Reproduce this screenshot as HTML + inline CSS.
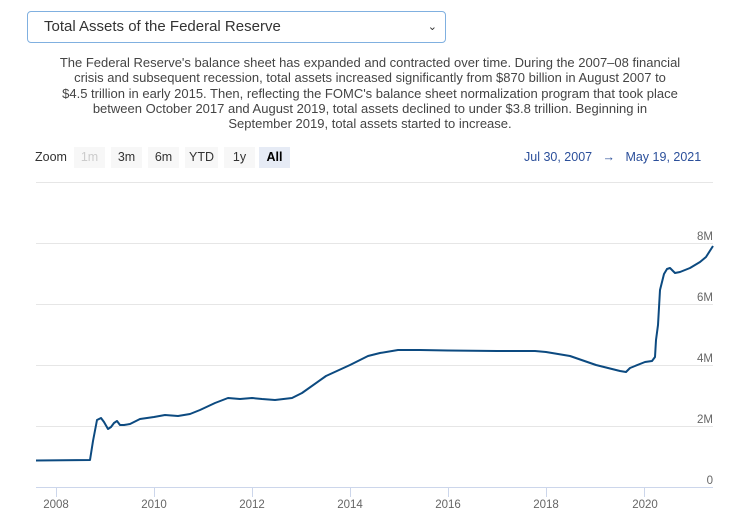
<!DOCTYPE html>
<html><head><style>
body{margin:0;width:738px;height:527px;background:#fff;font-family:"Liberation Sans",sans-serif;overflow:hidden;position:relative}
.sel{position:absolute;left:27px;top:11px;width:419px;height:32px;border:1px solid #80b0e0;border-radius:4px;box-sizing:border-box;font-size:15px;color:#333;line-height:30px;padding-left:16px}
.sel span{position:absolute;right:8px;top:0;font-size:11px}
.p{position:absolute;left:45px;width:650px;top:55px;text-align:center;font-size:13px;line-height:15.3px;color:#444}
.z{position:absolute;top:147px;font-size:12.5px;color:#333}
.b{position:absolute;top:147px;height:21px;line-height:21px;font-size:12.5px;background:#f7f7f7;color:#333;text-align:center}
</style></head><body>
<div class="sel">Total Assets of the Federal Reserve<span>&#8964;</span></div>
<div class="p">The Federal Reserve's balance sheet has expanded and contracted over time. During the 2007–08 financial<br>crisis and subsequent recession, total assets increased significantly from $870 billion in August 2007 to<br>$4.5 trillion in early 2015. Then, reflecting the FOMC's balance sheet normalization program that took place<br>between October 2017 and August 2019, total assets declined to under $3.8 trillion. Beginning in<br>September 2019, total assets started to increase.</div>
<div class="z" style="left:35px;top:150px">Zoom</div>
<div class="b" style="left:74px;width:31px;color:#ccc">1m</div>
<div class="b" style="left:111px;width:31px">3m</div>
<div class="b" style="left:148px;width:31px">6m</div>
<div class="b" style="left:185px;width:33px">YTD</div>
<div class="b" style="left:224px;width:31px">1y</div>
<div class="b" style="left:259px;width:31px;background:#e6ebf5;font-weight:bold;color:#000">All</div>
<div class="z" style="left:524px;top:150px;color:#2b4f9a">Jul 30, 2007 &nbsp;&nbsp;→&nbsp;&nbsp; May 19, 2021</div>
<svg width="738" height="527" style="position:absolute;left:0;top:0">
<g stroke="#e6e6e6" stroke-width="1">
<line x1="36" x2="713" y1="182.5" y2="182.5"/><line x1="36" x2="713" y1="243.5" y2="243.5"/><line x1="36" x2="713" y1="304.5" y2="304.5"/><line x1="36" x2="713" y1="365.5" y2="365.5"/><line x1="36" x2="713" y1="426.5" y2="426.5"/>
</g>
<line x1="36" x2="713" y1="487.5" y2="487.5" stroke="#ccd6eb"/>
<g stroke="#ccd6eb"><line x1="56.5" x2="56.5" y1="488" y2="497"/><line x1="154.5" x2="154.5" y1="488" y2="497"/><line x1="252.5" x2="252.5" y1="488" y2="497"/><line x1="350.5" x2="350.5" y1="488" y2="497"/><line x1="448.5" x2="448.5" y1="488" y2="497"/><line x1="546.5" x2="546.5" y1="488" y2="497"/><line x1="644.5" x2="644.5" y1="488" y2="497"/></g>
<g font-size="11.5" fill="#666" text-anchor="middle"><text x="56" y="508">2008</text><text x="154" y="508">2010</text><text x="252" y="508">2012</text><text x="350" y="508">2014</text><text x="448" y="508">2016</text><text x="546" y="508">2018</text><text x="645" y="508">2020</text></g>
<g font-size="11.5" fill="#666" text-anchor="end"><text x="713" y="240">8M</text><text x="713" y="301">6M</text><text x="713" y="362">4M</text><text x="713" y="423">2M</text><text x="713" y="484">0</text></g>
<polyline fill="none" stroke="#0c4a80" stroke-width="2" stroke-linejoin="round" points="36,460.5 90,460 93,441 97,420 101,418 104,422 108,429 111,427 114,423 117,421 120,425 124,425 130,424 140,419 154,417 165,415 178,416 190,414 200,410 215,403 228,398 240,399 252,398 262,399 275,400 292,398 302,393 326,376 350,365 368,356 380,353 398,350 420,350 448,350.5 497,351 535,351 546,352 570,356 596,365 620,371 626,372 630,368 635,366 645,362 652,361 655,357 656,340 658,325 660,290 664,274 667,269 670,268 675,273 680,272 690,268 700,262 706,257 713,246"/>
</svg>
</body></html>
